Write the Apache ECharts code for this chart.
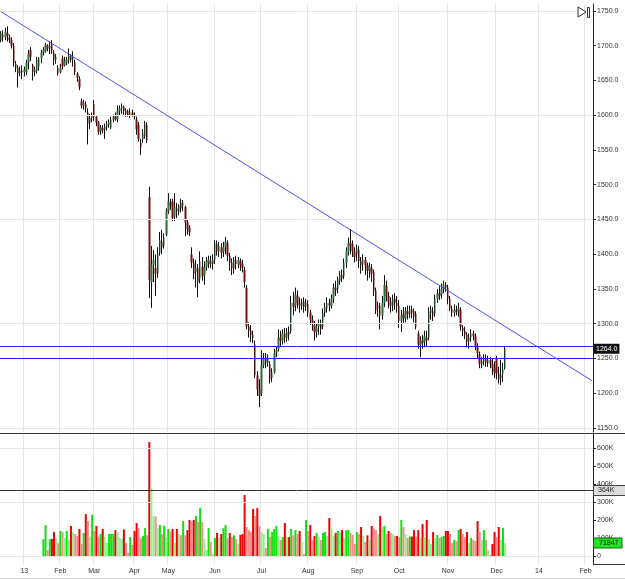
<!DOCTYPE html>
<html>
<head>
<meta charset="utf-8">
<script src="https://cdn.jsdelivr.net/npm/echarts@6.0.0/dist/echarts.min.js"></script>
<style>
  html, body { margin: 0; padding: 0; background: #fff; }
  #main { width: 625px; height: 580px; }
</style>
</head>
<body>
<div id="main"></div>
<script>
// month labels of the time axis and how many bar slots each one spans
const monthNames = ['', '13', 'Feb', 'Mar', 'Apr', 'May', 'Jun', 'Jul', 'Aug', 'Sep', 'Oct', 'Nov', 'Dec', '14', 'Feb'];
const monthSlots = [11, 17, 16, 19, 16, 22, 22, 22, 23, 20, 23, 23, 20, 22, 4];

// daily bars: [open, close, low, high]
const ohlc = [
  [1708,1718,1705,1721],[1716,1712,1706,1722],[1712,1720,1708,1726],[1718,1714,1706,1728],[1712,1708,1704,1716],
  [1708,1700,1696,1712],[1700,1675,1670,1704],[1674,1668,1662,1678],[1668,1660,1640,1672],[1660,1664,1656,1670],
  [1664,1662,1652,1672],[1662,1666,1656,1670],[1662,1676,1658,1680],[1676,1688,1666,1694],[1694,1684,1678,1698],
  [1672,1662,1650,1674],[1662,1666,1656,1670],[1664,1680,1660,1684],[1670,1682,1664,1684],[1682,1690,1675,1694],
  [1690,1694,1686,1698],[1692,1702,1690,1704],[1700,1696,1692,1702],[1696,1700,1688,1706],[1702,1694,1688,1708],
  [1690,1680,1672,1694],[1680,1684,1674,1688],[1668,1660,1657,1672],[1662,1668,1660,1674],[1682,1670,1666,1686],
  [1672,1678,1670,1684],[1676,1680,1672,1684],[1680,1686,1674,1696],[1686,1680,1676,1688],[1680,1684,1670,1692],
  [1676,1662,1658,1680],[1660,1654,1648,1662],[1652,1640,1636,1656],[1620,1614,1610,1624],[1614,1618,1608,1622],
  [1616,1610,1604,1620],[1604,1588,1558,1610],[1588,1596,1580,1602],[1596,1600,1590,1604],[1616,1598,1592,1622],
  [1598,1590,1584,1600],[1590,1576,1572,1592],[1578,1582,1572,1586],[1582,1578,1574,1586],[1580,1584,1566,1588],
  [1584,1588,1578,1592],[1586,1590,1582,1594],[1582,1594,1580,1598],[1594,1598,1590,1601],[1600,1594,1592,1604],
  [1594,1606,1590,1614],[1606,1610,1600,1614],[1610,1612,1602,1617],[1612,1606,1600,1614],[1606,1602,1598,1610],
  [1606,1600,1598,1608],[1600,1604,1596,1610],[1604,1600,1598,1608],[1600,1598,1594,1604],[1594,1580,1572,1598],
  [1586,1566,1562,1590],[1560,1554,1543,1566],[1566,1574,1560,1580],[1570,1588,1566,1592],[1586,1564,1560,1590],
  [1482,1363,1337,1497],[1360,1385,1323,1412],[1385,1392,1360,1406],[1380,1372,1340,1400],[1372,1400,1366,1410],
  [1402,1420,1398,1432],[1418,1410,1400,1435],[1412,1424,1408,1430],[1428,1462,1426,1466],[1462,1476,1458,1488],
  [1474,1470,1464,1480],[1476,1452,1448,1480],[1454,1468,1448,1488],[1466,1462,1452,1474],[1462,1470,1456,1472],
  [1474,1466,1460,1480],[1470,1474,1462,1478],[1468,1446,1426,1470],[1446,1436,1428,1450],[1438,1432,1426,1442],
  [1400,1388,1380,1410],[1388,1372,1364,1394],[1374,1380,1352,1392],[1380,1360,1338,1386],[1364,1390,1358,1404],
  [1382,1368,1362,1396],[1370,1382,1356,1390],[1382,1390,1376,1396],[1388,1392,1380,1398],[1390,1386,1380,1398],
  [1386,1392,1378,1400],[1392,1416,1386,1420],[1414,1404,1398,1420],[1404,1412,1396,1418],[1410,1402,1394,1416],
  [1404,1410,1396,1418],[1410,1418,1400,1425],[1416,1398,1390,1420],[1398,1388,1376,1402],[1388,1380,1370,1394],
  [1380,1392,1372,1396],[1392,1386,1378,1398],[1386,1392,1380,1396],[1390,1384,1376,1394],[1386,1380,1374,1392],
  [1378,1360,1352,1382],[1352,1296,1292,1356],[1296,1290,1280,1302],[1290,1284,1274,1298],[1284,1280,1272,1290],
  [1270,1226,1222,1276],[1226,1206,1196,1232],[1206,1196,1180,1220],[1200,1240,1196,1262],[1240,1250,1236,1258],
  [1250,1244,1236,1258],[1244,1250,1238,1256],[1242,1220,1214,1246],[1222,1230,1216,1236],[1230,1258,1228,1264],
  [1258,1262,1252,1268],[1264,1280,1260,1292],[1280,1276,1268,1290],[1276,1286,1270,1292],[1286,1280,1272,1294],
  [1280,1288,1274,1294],[1288,1284,1276,1296],[1290,1330,1286,1340],[1330,1324,1312,1346],[1326,1342,1318,1352],
  [1340,1330,1322,1348],[1330,1326,1316,1338],[1326,1332,1320,1336],[1332,1324,1316,1338],[1324,1330,1318,1336],
  [1328,1316,1310,1334],[1316,1306,1298,1320],[1306,1300,1290,1312],[1298,1288,1276,1304],[1288,1294,1280,1300],
  [1296,1300,1284,1306],[1300,1292,1284,1306],[1296,1316,1292,1322],[1316,1324,1310,1330],[1322,1330,1316,1338],
  [1330,1326,1318,1336],[1326,1336,1322,1342],[1336,1352,1330,1358],[1352,1348,1340,1362],[1350,1364,1344,1368],
  [1362,1370,1356,1376],[1370,1366,1360,1378],[1368,1388,1364,1394],[1388,1404,1380,1410],[1404,1416,1398,1424],
  [1416,1412,1400,1436],[1414,1404,1396,1420],[1404,1396,1388,1410],[1400,1408,1390,1414],[1406,1390,1380,1412],
  [1390,1384,1372,1396],[1386,1392,1376,1400],[1392,1384,1370,1396],[1384,1376,1362,1388],[1376,1382,1366,1388],
  [1380,1372,1360,1386],[1374,1348,1340,1378],[1348,1320,1314,1352],[1322,1326,1310,1332],[1326,1312,1292,1330],
  [1312,1330,1306,1340],[1330,1356,1324,1370],[1354,1340,1332,1362],[1340,1332,1322,1346],[1332,1326,1316,1338],
  [1326,1336,1318,1342],[1336,1330,1320,1344],[1330,1326,1316,1340],[1326,1304,1294,1334],[1304,1312,1288,1320],
  [1314,1308,1300,1324],[1308,1318,1302,1324],[1318,1314,1306,1326],[1314,1320,1308,1326],[1320,1316,1308,1326],
  [1318,1310,1302,1322],[1314,1296,1292,1318],[1286,1270,1264,1290],[1270,1276,1252,1282],[1276,1272,1264,1284],
  [1274,1282,1266,1290],[1280,1276,1268,1290],[1280,1318,1276,1324],[1316,1320,1306,1326],[1318,1312,1304,1324],
  [1314,1336,1310,1342],[1336,1344,1330,1350],[1344,1340,1334,1354],[1342,1350,1336,1358],[1350,1356,1344,1362],
  [1356,1352,1346,1360],[1352,1336,1328,1356],[1336,1322,1318,1340],[1322,1316,1310,1326],[1316,1320,1310,1328],
  [1320,1318,1312,1326],[1318,1322,1310,1330],[1320,1296,1290,1324],[1294,1290,1282,1298],[1290,1284,1278,1296],
  [1284,1274,1266,1288],[1276,1280,1264,1286],[1280,1286,1274,1292],[1286,1282,1276,1290],[1282,1268,1262,1286],
  [1268,1258,1250,1272],[1256,1242,1236,1260],[1242,1246,1236,1252],[1246,1250,1240,1256],[1250,1244,1238,1256],
  [1244,1248,1238,1254],[1248,1242,1236,1252],[1242,1236,1226,1250],[1236,1230,1222,1246],[1250,1228,1220,1254],
  [1228,1220,1214,1238],[1222,1226,1212,1248],[1228,1234,1216,1244],[1236,1264,1234,1268]
];

// daily volume in thousands (no volume for the first bars)
const volume = [
  null,null,null,null,null,null,null,null,null,null,null,null,null,null,null,null,null,null,null,null,
  93,172,33,93,95,133,100,72,139,133,
  100,139,89,167,133,122,111,150,67,128,
  233,194,108,229,139,167,108,122,150,108,
  72,122,122,122,144,133,100,94,148,72,
  17,105,61,139,183,155,98,111,155,115,
  633,378,222,219,155,172,122,168,100,150,
  133,150,72,150,122,115,194,115,144,200,
  194,200,222,189,
  267,189,94,33,155,78,11,100,128,105,
  122,155,172,100,128,105,115,94,67,117,
  122,339,161,144,133,261,222,267,167,133,
  122,44,150,105,133,150,167,111,89,105,
  183,105,105,150,115,144,122,139,78,11,
  200,139,172,89,111,128,105,89,128,133,
  111,211,155,111,128,139,133,144,100,144,
  144,128,117,67,133,122,161,111,78,115,
  89,167,155,144,122,222,161,167,122,139,
  128,122,111,111,105,
  200,161,122,100,108,108,144,108,144,100,
  178,105,200,94,67,133,100,117,100,105,
  111,139,139,122,72,89,83,144,150,122,
  105,133,72,100,89,83,194,133,89,144,
  89,33,6,67,133,105,161,89,155,71.847
];

const priceTicks = [1150, 1200, 1250, 1300, 1350, 1400, 1450, 1500, 1550, 1600, 1650, 1700, 1750];
const priceGridValues = [1150, 1300, 1450, 1600, 1750];
const volumeTicks = [0, 100, 200, 300, 400, 500, 600];
const volumeGridValues = [0, 300, 600];
const priceLevels = [1268, 1250];
const trendStart = [0, 1749];
const trendEnd = [279, 1218];
const volumeLevel = 364;

let cats = [];
monthNames.forEach(function (m, i) {
  for (let d = 0; d < monthSlots[i]; d++) cats.push(i + '|' + m + '|' + d);
});
function isMonthStart(idx, val) {
  let p = val.split('|');
  return p[2] === '0' && p[1] !== '';
}

let bodies = ohlc.map(function (b) {
  return [b[0], b[1], Math.min(b[0], b[1]), Math.max(b[0], b[1])];
});
let volBars = volume.map(function (v, i) {
  if (v == null) return null;
  let up = ohlc[i][1] >= ohlc[i][0];
  let prev = volume[i - 1];
  let strong = prev == null || v >= prev;
  let color = up ? (strong ? '#10e010' : '#8cf58c') : (strong ? '#f00000' : '#f58c8c');
  return { value: v, itemStyle: { color: color } };
});
let lastClose = ohlc[ohlc.length - 1][1];
let lastVol = volume[volume.length - 1];

let myChart = echarts.init(document.getElementById('main'));
let gridColor = '#e6e6e6';
let axisColor = '#222';
let txt = { fontFamily: 'Liberation Sans', fontSize: 7, color: '#333' };

let option = {
  animation: false,
  backgroundColor: '#fff',
  grid: [
    { left: 0, right: 32, top: 4, height: 428 },
    { left: 0, right: 32, top: 433, height: 131 }
  ],
  xAxis: [
    {
      type: 'category', gridIndex: 0, data: cats,
      axisLine: { show: false }, axisTick: { show: false }, axisLabel: { show: false },
      splitLine: { show: true, interval: isMonthStart, lineStyle: { color: gridColor } }
    },
    {
      type: 'category', gridIndex: 1, data: cats,
      axisLine: { show: true, lineStyle: { color: axisColor } },
      axisTick: { show: false },
      axisLabel: Object.assign({
        interval: isMonthStart, margin: 4,
        formatter: function (v) { return v.split('|')[1]; }
      }, txt),
      splitLine: { show: true, interval: isMonthStart, lineStyle: { color: gridColor } }
    }
  ],
  yAxis: [
    {
      type: 'value', gridIndex: 0, position: 'right',
      min: 1150 - 4 / 0.695, max: 1750 + 7 / 0.695,
      axisLine: { show: true, lineStyle: { color: axisColor } },
      axisTick: { show: true, length: 3, customValues: priceTicks, lineStyle: { color: axisColor } },
      axisLabel: Object.assign({
        customValues: priceTicks, margin: 4,
        formatter: function (v) { return v.toFixed(1); }
      }, txt),
      splitLine: { show: false }
    },
    {
      type: 'value', gridIndex: 1, position: 'right',
      min: -8 / 0.18, max: 123 / 0.18,
      axisLine: { show: true, lineStyle: { color: axisColor } },
      axisTick: { show: true, length: 3, customValues: volumeTicks, lineStyle: { color: axisColor } },
      axisLabel: Object.assign({
        customValues: volumeTicks, margin: 4,
        formatter: function (v) { return v === 0 ? '0' : v + 'K'; }
      }, txt),
      splitLine: { show: false }
    }
  ],
  series: [
    {
      name: 'priceGrid', type: 'line', xAxisIndex: 0, yAxisIndex: 0, data: [], z: 1, silent: true,
      markLine: {
        silent: true, symbol: ['none', 'none'], label: { show: false },
        lineStyle: { color: gridColor, width: 1, type: 'solid' },
        data: priceGridValues.map(function (v) { return { yAxis: v }; })
      }
    },
    {
      name: 'wick', type: 'candlestick', xAxisIndex: 0, yAxisIndex: 0, data: ohlc, z: 3,
      barWidth: 1, silent: true,
      itemStyle: { color: '#111', color0: '#111', borderColor: '#111', borderColor0: '#111', borderWidth: 1 }
    },
    {
      name: 'body', type: 'candlestick', xAxisIndex: 0, yAxisIndex: 0, data: bodies, z: 4,
      barWidth: 2, silent: true,
      itemStyle: { color: '#2f6d3a', color0: '#741212', borderColor: '#2f6d3a', borderColor0: '#741212', borderWidth: 0 },
      markLine: {
        silent: true, symbol: ['none', 'none'],
        data: priceLevels.map(function (v) {
          return { yAxis: v, lineStyle: { color: '#2424ff', width: 1, type: 'solid' }, label: { show: false } };
        }).concat([
          [
            { coord: trendStart, lineStyle: { color: '#5050ff', width: 1, type: 'solid' }, label: { show: false } },
            { coord: trendEnd }
          ],
          {
            yAxis: lastClose,
            lineStyle: { color: 'rgba(0,0,0,0)', width: 0 },
            label: {
              show: true, position: 'end', distance: 1,
              formatter: lastClose.toFixed(1),
              fontFamily: 'Liberation Sans', fontSize: 7, color: '#fff',
              backgroundColor: '#111', padding: [2, 2, 1, 2]
            }
          }
        ])
      }
    },
    {
      name: 'volGrid', type: 'line', xAxisIndex: 1, yAxisIndex: 1, data: [], z: 1, silent: true,
      markLine: {
        silent: true, symbol: ['none', 'none'], label: { show: false },
        lineStyle: { color: gridColor, width: 1, type: 'solid' },
        data: volumeGridValues.map(function (v) { return { yAxis: v }; })
      }
    },
    {
      name: 'volume', type: 'bar', xAxisIndex: 1, yAxisIndex: 1, data: volBars, z: 3,
      barWidth: 2, silent: true,
      markLine: {
        silent: true, symbol: ['none', 'none'],
        data: [
          {
            yAxis: volumeLevel,
            lineStyle: { color: '#333', width: 1, type: 'solid' },
            label: {
              show: true, position: 'end', distance: 1,
              formatter: volumeLevel + 'K',
              fontFamily: 'Liberation Sans', fontSize: 7, color: '#222',
              backgroundColor: '#dcdcdc', borderColor: '#444', borderWidth: 1,
              padding: [1, 12, 1, 4]
            }
          },
          {
            yAxis: lastVol,
            lineStyle: { color: 'rgba(0,0,0,0)', width: 0 },
            label: {
              show: true, position: 'end', distance: 1,
              formatter: String(Math.round(lastVol * 1000)),
              fontFamily: 'Liberation Sans', fontSize: 7, color: '#111',
              backgroundColor: '#22e622', borderColor: '#0a6a0a', borderWidth: 1,
              padding: [1, 3, 1, 5]
            }
          }
        ]
      }
    }
  ],
  graphic: [
    { type: 'line', shape: { x1: 0, y1: 433.5, x2: 625, y2: 433.5 }, style: { stroke: '#333', lineWidth: 1 }, z: 10 },
    { type: 'line', shape: { x1: 593, y1: 564.5, x2: 625, y2: 564.5 }, style: { stroke: '#333', lineWidth: 1 }, z: 10 },
    { type: 'line', shape: { x1: 0, y1: 578.5, x2: 625, y2: 578.5 }, style: { stroke: '#ddd', lineWidth: 1 }, z: 10 },
    { type: 'polygon', shape: { points: [[578, 7], [586, 12], [578, 17]] }, style: { fill: '#fff', stroke: '#333', lineWidth: 1 }, z: 10 },
    { type: 'rect', shape: { x: 587.5, y: 7.5, width: 2, height: 10 }, style: { fill: '#fff', stroke: '#333', lineWidth: 1 }, z: 10 }
  ]
};

myChart.setOption(option);
</script>
</body>
</html>
